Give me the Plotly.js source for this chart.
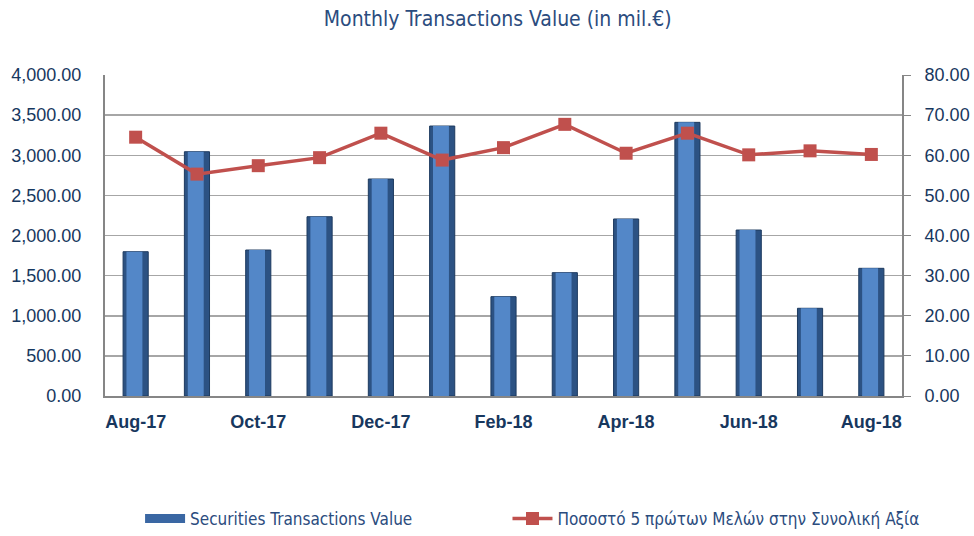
<!DOCTYPE html>
<html>
<head>
<meta charset="utf-8">
<script src="https://cdn.plot.ly/plotly-3.0.1.min.js"></script>
<style>html,body{margin:0;padding:0;background:#fff;}#chart{width:974px;height:536px;}</style>
</head>
<body>
<div id="chart"></div>
<script>
const months = ["Aug-17","Sep-17","Oct-17","Nov-17","Dec-17","Jan-18","Feb-18","Mar-18","Apr-18","May-18","Jun-18","Jul-18","Aug-18"];
const transactionsValue = [1798, 3044, 1819, 2234, 2704, 3364, 1238, 1537, 2206, 3410, 2068, 1093, 1591];
const top5Share = [64.5, 55.3, 57.4, 59.4, 65.5, 58.8, 61.9, 67.7, 60.5, 65.5, 60.1, 61.1, 60.2];
const xTickLabels = ["Aug-17","Oct-17","Dec-17","Feb-18","Apr-18","Jun-18","Aug-18"];
const leftTicks = [0,500,1000,1500,2000,2500,3000,3500,4000];
const rightTicks = [0,10,20,30,40,50,60,70,80];

const navy = "#17375E";
const narrow = "DejaVu Sans Condensed, Liberation Sans Narrow, Arial";
const traces = [
  {type:"bar", x:months, y:transactionsValue, name:"Securities Transactions Value", showlegend:false,
   width:0.41, marker:{color:"#2c5283", line:{color:"#1d3a5f", width:1}}, yaxis:"y"},
  {type:"bar", x:months, y:transactionsValue, showlegend:false, hoverinfo:"skip",
   width:0.26, offset:-0.15, marker:{color:"#5387c8", line:{width:0}}, yaxis:"y"},
  {type:"scatter", mode:"lines", x:[null], y:[null], name:"Securities Transactions Value",
   legend:"legend", line:{color:"#3a67a3", width:9}, hoverinfo:"skip"},
  {type:"scatter", mode:"lines+markers", x:months, y:top5Share, yaxis:"y2", legend:"legend2",
   name:"Ποσοστό 5 πρώτων Μελών στην Συνολική Αξία",
   line:{color:"#C0504D", width:3.5}, marker:{symbol:"square", size:13, color:"#C0504D"}}
];
const legendFont = {family:narrow, size:17, color:"#2B4C7E"};
const layout = {
  width:974, height:536,
  margin:{l:105, r:72, t:75, b:140, autoexpand:false},
  paper_bgcolor:"#fff", plot_bgcolor:"#fff",
  barmode:"overlay",
  title:{text:"Monthly Transactions Value (in mil.€)", x:0.511, xanchor:"center", y:0.965, yanchor:"middle",
    font:{family:narrow, size:21, color:"#2B4C7E"}},
  xaxis:{type:"category", range:[-0.5,12.5], tickvals:xTickLabels, ticktext:xTickLabels,
    showgrid:false, showline:true, linecolor:"#868686", linewidth:2, ticks:"", ticklabelstandoff:8,
    tickfont:{family:"Liberation Sans, Arial", size:18, color:navy, weight:"bold"}},
  yaxis:{range:[0,4000], tickvals:leftTicks, tickformat:",.2f", showgrid:true, gridcolor:"#a6a6a6", gridwidth:1.5,
    showline:true, linecolor:"#868686", linewidth:2, ticks:"", ticklabelstandoff:18, zeroline:false,
    tickfont:{family:"Liberation Sans, Arial", size:18, color:navy}},
  yaxis2:{range:[0,80], tickvals:rightTicks, tickformat:".2f", overlaying:"y", side:"right", showgrid:false,
    showline:true, linecolor:"#868686", linewidth:2, ticks:"outside", ticklen:7, tickcolor:"#868686", zeroline:false,
    ticklabelstandoff:10,
    tickfont:{family:"Liberation Sans, Arial", size:18, color:navy}},
  showlegend:true,
  legend:{orientation:"h", x:0.044, xanchor:"left", y:-0.383, yanchor:"middle",
    font:legendFont, itemwidth:40, bgcolor:"rgba(0,0,0,0)"},
  legend2:{orientation:"h", x:0.505, xanchor:"left", y:-0.383, yanchor:"middle",
    font:legendFont, itemwidth:40, bgcolor:"rgba(0,0,0,0)"}
};
Plotly.newPlot("chart", traces, layout, {displayModeBar:false, staticPlot:true});
</script>
</body>
</html>
